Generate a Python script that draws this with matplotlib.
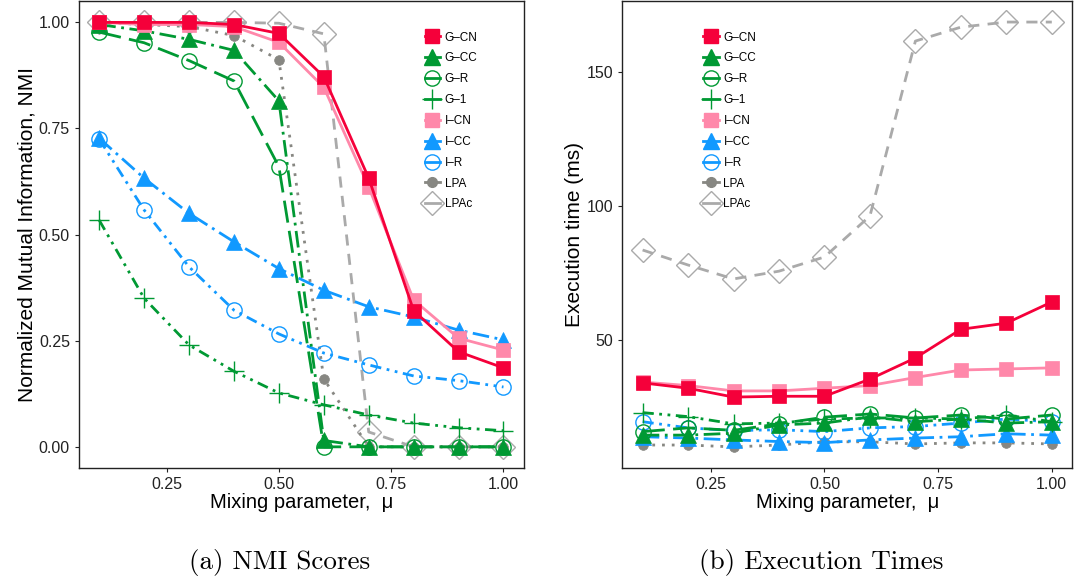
import matplotlib
matplotlib.use("Agg")
import matplotlib.pyplot as plt
from matplotlib.lines import Line2D

plt.rcParams['font.family'] = ['Liberation Sans', 'DejaVu Sans']

mu = [0.1, 0.2, 0.3, 0.4, 0.5, 0.6, 0.7, 0.8, 0.9, 1.0]
names = ['G–CN', 'G–CC', 'G–R', 'G–1', 'I–CN', 'I–CC', 'I–R', 'LPA', 'LPAc']

# NMI scores per method
nmi_gcn = [1.00, 1.00, 1.00, 0.995, 0.974, 0.872, 0.633, 0.321, 0.224, 0.186]
nmi_gcc = [0.995, 0.98, 0.96, 0.934, 0.815, 0.015, 0.0, 0.0, 0.0, 0.0]
nmi_gr = [0.977, 0.952, 0.91, 0.862, 0.66, 0.0, 0.0, 0.0, 0.0, 0.0]
nmi_g1 = [0.534, 0.35, 0.24, 0.178, 0.127, 0.099, 0.075, 0.056, 0.045, 0.038]
nmi_icn = [1.00, 0.995, 0.995, 0.99, 0.953, 0.847, 0.612, 0.346, 0.256, 0.228]
nmi_icc = [0.727, 0.633, 0.55, 0.483, 0.42, 0.369, 0.33, 0.306, 0.275, 0.252]
nmi_ir = [0.725, 0.558, 0.424, 0.322, 0.266, 0.221, 0.193, 0.167, 0.156, 0.141]
nmi_lpa = [1.00, 0.995, 0.99, 0.969, 0.912, 0.16, 0.0, 0.0, 0.0, 0.0]
nmi_lpac = [1.00, 1.00, 1.00, 1.00, 0.998, 0.973, 0.035, 0.0, 0.0, 0.0]

# execution times (ms)
t_gcn = [34.0, 32.0, 28.7, 29.0, 29.0, 35.4, 43.3, 54.0, 56.3, 64.2]
t_gcc = [14.5, 14.5, 15.2, 18.3, 19.0, 21.3, 19.5, 20.5, 19.0, 19.5]
t_gr = [15.8, 17.2, 16.3, 18.7, 21.2, 22.4, 20.9, 22.0, 20.5, 22.0]
t_g1 = [22.9, 21.4, 18.7, 19.0, 20.5, 20.9, 20.9, 20.5, 22.0, 19.5]
t_icn = [34.3, 33.0, 31.0, 31.0, 32.0, 33.0, 36.0, 38.8, 39.2, 39.6]
t_icc = [13.9, 13.4, 12.7, 12.1, 11.7, 12.7, 13.4, 13.9, 15.0, 14.5]
t_ir = [19.5, 17.2, 16.2, 16.5, 15.8, 17.2, 17.7, 19.0, 20.5, 19.5]
t_lpa = [10.8, 10.8, 10.1, 10.8, 12.0, 12.0, 11.2, 11.6, 11.6, 11.2]
t_lpac = [83.6, 78.0, 72.8, 75.7, 81.0, 96.3, 161.6, 166.8, 168.7, 168.7]

nmi = [nmi_gcn, nmi_gcc, nmi_gr, nmi_g1, nmi_icn, nmi_icc, nmi_ir, nmi_lpa, nmi_lpac]
times = [t_gcn, t_gcc, t_gr, t_g1, t_icn, t_icc, t_ir, t_lpa, t_lpac]

red, pink, green, blue = '#F5003A', '#FF88AA', '#009933', '#1199FF'
grey, lgrey = '#878782', '#AAAAAA'

# colour, linestyle, marker, markersize, filled
styles = [
    (red, '-', 's', 10, True),
    (green, (0, (6, 2, 1, 2)), '^', 11, True),
    (green, (0, (8, 3)), 'o', 11, False),
    (green, (0, (4, 2, 1, 2, 1, 2)), '+', 14, False),
    (pink, '-', 's', 10, True),
    (blue, (0, (6, 2, 1, 2)), '^', 11, True),
    (blue, (0, (4, 2, 1, 2, 1, 2)), 'o', 11, False),
    (grey, (0, (1, 2.5)), 'o', 7, True),
    (lgrey, (0, (4, 3)), 'D', 12, False),
]

# draw order: light series first so the red lines stay on top
order = [8, 7, 6, 5, 3, 2, 1, 4, 0]

fig = plt.figure(figsize=(10.82, 5.8), dpi=100)
ax1 = fig.add_axes([0.073, 0.193, 0.411, 0.805])
ax2 = fig.add_axes([0.575, 0.193, 0.416, 0.805])


def draw(ax, data, legend_x):
    for i in order:
        c, ls, m, ms, filled = styles[i]
        ax.plot(mu, data[i], color=c, linestyle=ls, linewidth=2,
                marker=m, markersize=ms,
                markerfacecolor=c if filled else 'none',
                markeredgecolor=c, markeredgewidth=1.0 if not filled else 0.5,
                zorder=3)
    ax.set_xlim(0.055, 1.045)
    ax.set_xticks([0.25, 0.50, 0.75, 1.00])
    ax.set_xticklabels(['0.25', '0.50', '0.75', '1.00'])
    ax.tick_params(labelsize=11.5, colors='#222222', length=3, width=0.8)
    for s in ax.spines.values():
        s.set_color('#222222')
        s.set_linewidth(1.0)
    ax.set_xlabel('Mixing parameter,  μ', fontsize=14.5, labelpad=1)

    handles = []
    for i in range(9):
        c, ls, m, ms, filled = styles[i]
        handles.append(Line2D([], [], color=c, linestyle='-', linewidth=2,
                              marker=m, markersize=ms,
                              markerfacecolor=c if filled else 'none',
                              markeredgecolor=c))
    ax.legend(handles, names, loc='upper left', bbox_to_anchor=(legend_x, 0.945),
              frameon=False, fontsize=8.5, handlelength=1.3, handletextpad=0.4,
              labelspacing=0.75, borderaxespad=0)


draw(ax1, nmi, 0.767)
ax1.set_ylim(-0.05, 1.05)
ax1.set_yticks([0.0, 0.25, 0.5, 0.75, 1.0])
ax1.set_yticklabels(['0.00', '0.25', '0.50', '0.75', '1.00'])
ax1.set_ylabel('Normalized Mutual Information, NMI', fontsize=15, labelpad=2)

draw(ax2, times, 0.17)
ax2.set_ylim(2.2, 176.5)
ax2.set_yticks([50, 100, 150])
ax2.set_ylabel('Execution time (ms)', fontsize=15, labelpad=2)

fig.text(0.258, 0.03, '(a) NMI Scores', fontsize=19.5, family='cmr10',
         ha='center', va='center')
fig.text(0.759, 0.03, '(b) Execution Times', fontsize=19.5, family='cmr10',
         ha='center', va='center')

fig.savefig('out.png', dpi=100)
